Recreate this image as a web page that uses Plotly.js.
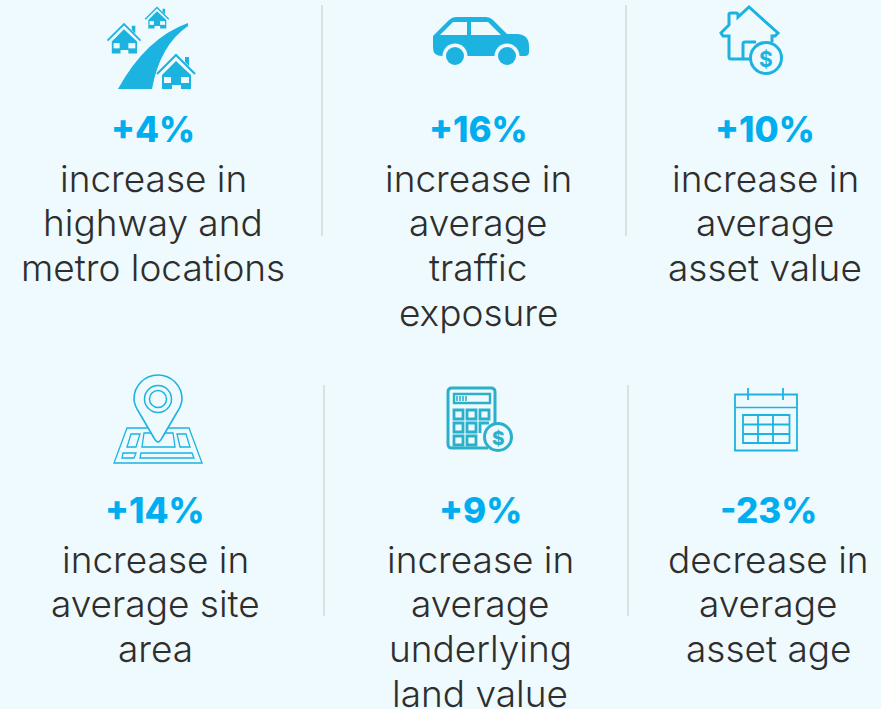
<!DOCTYPE html>
<html><head><meta charset="utf-8">
<script src="https://cdn.plot.ly/plotly-3.0.1.min.js"></script>
<style>html,body{margin:0;padding:0;background:#eefafd;overflow:hidden}</style>
</head><body><div id="chart" style="width:881px;height:709px"></div>
<script>
const changes = [4, 16, 10, 14, 9, -23];
const captions = [
  ["increase in", "highway and", "metro locations"],
  ["increase in", "average", "traffic", "exposure"],
  ["increase in", "average", "asset value"],
  ["increase in", "average site", "area"],
  ["increase in", "average", "underlying", "land value"],
  ["decrease in", "average", "asset age"]
];
const BG = "#eefafd", BLUE = "#1cb3e1", TEAL = "#2bb0cb";
const FONT = "Inter, sans-serif";

const shapes = [], annotations = [];
function path(d, opt) {
  opt = opt || {};
  shapes.push({type: "path", xref: "x", yref: "y", path: d, layer: "above",
    fillcolor: opt.fill || "rgba(0,0,0,0)",
    line: {color: opt.stroke || "rgba(0,0,0,0)", width: opt.width || 0}});
}
function circle(cx, cy, r, opt) {
  opt = opt || {};
  shapes.push({type: "circle", xref: "x", yref: "y", x0: cx - r, x1: cx + r, y0: cy - r, y1: cy + r, layer: "above",
    fillcolor: opt.fill || "rgba(0,0,0,0)",
    line: {color: opt.stroke || "rgba(0,0,0,0)", width: opt.width || 0}});
}
function rect(x0, y0, x1, y1, opt) {
  path(`M${x0},${y0}L${x1},${y0}L${x1},${y1}L${x0},${y1}Z`, opt);
}
function label(x, y, text, size, color, weight) {
  annotations.push({xref: "x", yref: "y", x, y, text, showarrow: false, xanchor: "center", yanchor: "middle",
    font: {family: FONT, size, color, weight: weight || 400}});
}
function house(ax, ay, s) {
  const p = (dx, dy) => `${ax + dx * s},${ay + dy * s}`;
  path(`M${p(-19, 19)}L${p(0, 0)}L${p(19, 19)}`, {stroke: BLUE, width: 1.6 * s + .4});
  path(`M${p(9, 2)}L${p(13, 2)}L${p(13, 11)}L${p(9, 7)}Z`, {fill: BLUE});
  path(`M${p(0, 6)}L${p(15, 20)}L${p(15, 34)}L${p(5, 34)}L${p(5, 30)}L${p(-4, 30)}L${p(-4, 34)}L${p(-14, 34)}L${p(-14, 20)}Z`, {fill: BLUE});
  rect(ax - 12 * s, ay + 22 * s, ax - 5 * s, ay + 28 * s, {fill: BG});
  rect(ax + 5 * s, ay + 22 * s, ax + 13 * s, ay + 28 * s, {fill: BG});
}
function drawHighway() {
  path("M118,89Q146,38 188,23L188,26Q160,45 152,89Z", {fill: BLUE});
  house(176, 55, 1); house(124, 24, .87); house(157, 7.5, .62);
}
function drawCar() {
  path("M433,36L449,20Q452,17 456,17L486,17Q490,17 493,20L507,34L518,34Q529,35 529,46L529,52Q529,56 525,56L442,56Q433,56 433,48Z", {fill: BLUE});
  path("M440,35L453,22L467,22L467,35Z", {fill: BG});
  path("M471,22L488,22L501,35L471,35Z", {fill: BG});
  circle(455, 56, 12.5, {fill: BG}); circle(507, 56, 12.5, {fill: BG});
  circle(455, 56, 9, {fill: BLUE}); circle(507, 56, 9, {fill: BLUE});
}
function drawHouseCoin() {
  const o = {stroke: BLUE, width: 3};
  path("M752,59L731,59Q729,59 729,57L729,36L723,36L721,33L729,25L729,14Q729,13 731,13L736,13Q738,13 738,15L738,17L749,7L778,33L775,36L772,36L772,42", o);
  path("M743,58L743,44Q743,42 745,42L756,42", o);
  circle(766, 58, 15.5, {fill: BG, stroke: BLUE, width: 3});
  label(766, 59, "$", 21, BLUE, 700);
}
function drawPinMap() {
  const o = {stroke: BLUE, width: 1.3};
  path("M127,428L189,428L202,463L114,463Z", o);
  path("M131,434L140,434L136,447L127,447Z", o);
  path("M144,433L173,433L175,447L142,447Z", o);
  path("M177,434L186,434L190,447L180,447Z", o);
  path("M123,453L136,453L134,458L122,458Z", o);
  path("M141,453L192,453L194,458L140,458Z", o);
  path("M158,442Q156,442 154,438L140,414C136,408 134,404 134,399C134,385.7 144.7,375 158,375C171.3,375 182,385.7 182,399C182,404 180,408 176,414L162,438Q160,442 158,442Z", {fill: BG, stroke: BLUE, width: 1.6});
  circle(158, 399, 13.5, {stroke: BLUE, width: 1.5});
  circle(158, 399, 8.5, {stroke: BLUE, width: 1.5});
}
function drawCalculator() {
  const o = {stroke: TEAL, width: 3};
  path("M488,448L452,448Q448,448 448,444L448,392Q448,388 452,388L491,388Q495,388 495,392L495,423", o);
  rect(454, 394, 490, 403, {stroke: TEAL, width: 2.4});
  [457, 460, 463, 466].forEach(x => path(`M${x},396L${x},401`, {stroke: TEAL, width: 1.6}));
  [[454, 410], [467, 410], [480, 410], [454, 423], [467, 423], [454, 436], [467, 436]].forEach(c =>
    rect(c[0], c[1], c[0] + 9, c[1] + 9, {stroke: TEAL, width: 2.8}));
  path("M480,433L480,423L489,423", {stroke: TEAL, width: 2.8});
  circle(498, 437, 13.5, {fill: BG, stroke: TEAL, width: 3});
  label(498, 438, "$", 19, TEAL, 800);
}
function drawCalendar() {
  const o = {stroke: BLUE, width: 1.8};
  rect(735, 394.5, 797, 450.5, o);
  path("M735,407.5L797,407.5", {stroke: BLUE, width: 1.4});
  path("M748,388L748,400", o); path("M783,388L783,400", o);
  rect(743, 415, 789.5, 443, o);
  path("M758,415L758,443", o); path("M773,415L773,443", o);
  path("M743,424.5L789.5,424.5", o); path("M743,434L789.5,434", o);
}

// dividers
[[322, 5, 236], [626, 5, 236], [324, 385, 616], [628, 385, 616]].forEach(d =>
  path(`M${d[0]},${d[1]}L${d[0]},${d[2]}`, {stroke: "#cfd8da", width: 1.4}));

[drawHighway, drawCar, drawHouseCoin, drawPinMap, drawCalculator, drawCalendar].forEach(f => f());

const colX = [153, 478, 765, 155, 480, 768];
changes.forEach((v, i) => {
  const top = i < 3 ? 129 : 510;
  label(colX[i], top, (v > 0 ? "+" : "-") + Math.abs(v) + "%", 35, "#00aeef", 800);
  captions[i].forEach((t, j) => label(colX[i], top + 49 + j * 44.8, t, 37, "#2e2e2e", 300));
});

Plotly.newPlot("chart", [], {
  width: 881, height: 709, margin: {l: 0, r: 0, t: 0, b: 0},
  paper_bgcolor: BG, plot_bgcolor: BG, showlegend: false,
  xaxis: {range: [0, 881], visible: false, fixedrange: true},
  yaxis: {range: [709, 0], visible: false, fixedrange: true},
  shapes, annotations
}, {displayModeBar: false, staticPlot: true});
</script></body></html>
